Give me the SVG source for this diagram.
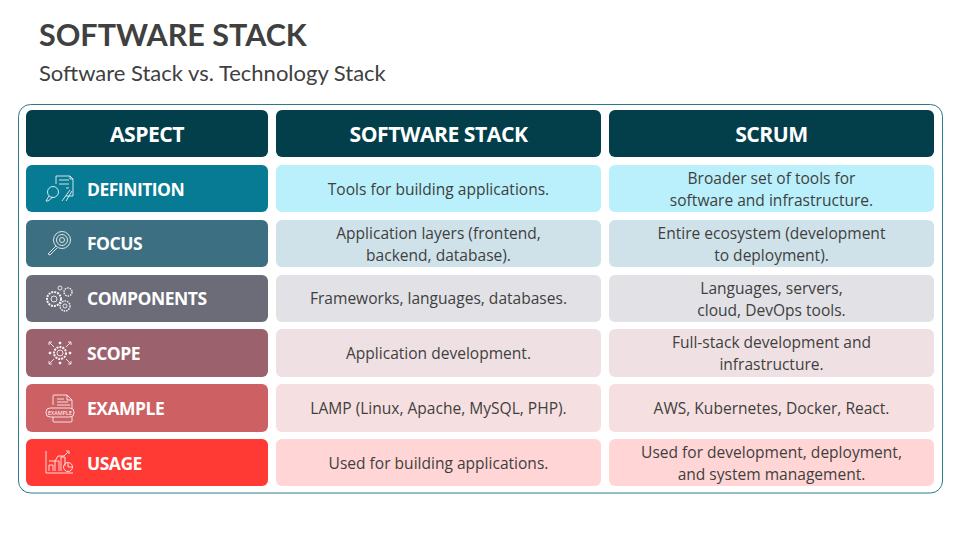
<svg xmlns="http://www.w3.org/2000/svg" width="960" height="540" viewBox="0 0 960 540">
<style>
.t{font-family:"Open Sans","Noto Sans",sans-serif;font-size:15.55px;fill:#3f3f3f;text-anchor:middle}
.h{font-family:"Open Sans","Noto Sans",sans-serif;font-size:21.2px;font-weight:700;fill:#fff;text-anchor:middle;letter-spacing:-.5px}
.l{font-family:"Open Sans","Noto Sans",sans-serif;font-size:17.5px;font-weight:700;fill:#fff;letter-spacing:-.5px}
.i{fill:none;stroke:#fff;stroke-width:.9;stroke-opacity:.9}
</style>
<rect width="960" height="540" fill="#fff"/>
<text id="title" x="39" y="46" font-family="Lato,sans-serif" font-size="30.5px" font-weight="700" fill="#404040">SOFTWARE STACK</text>
<text id="subtitle" x="39" y="81" font-family="Lato,sans-serif" font-size="22px" fill="#404040">Software Stack vs. Technology Stack</text>
<rect id="frame" x="18.5" y="104.5" width="924" height="388.5" rx="12" fill="#fff" stroke="#2b7a8c" stroke-width="1"/>
<g id="head-aspect"><rect x="26" y="110" width="242" height="47" rx="6" fill="#033e4b"/><text class="h" x="147" y="141.500">ASPECT</text></g>
<g id="head-software"><rect x="276" y="110" width="325" height="47" rx="6" fill="#033e4b"/><text class="h" x="438.500" y="141.500">SOFTWARE STACK</text></g>
<g id="head-scrum"><rect x="609" y="110" width="325" height="47" rx="6" fill="#033e4b"/><text class="h" x="771.500" y="141.500">SCRUM</text></g>

<g id="row-definition">
<rect x="26" y="165" width="242" height="47" rx="6" fill="#077a94"/>
<g class="i"><path d="M56 184V176H70L73 179V196H66M70 176V179H73M59 180H69M59 184H69M66 188H69"/><circle cx="53" cy="192" r="5.500"/><path d="M49 196L46 201L48 201L53 197M62 201L70 190M66 201L72 191"/></g>
<text class="l" x="87" y="196">DEFINITION</text>
<rect x="276" y="165" width="325" height="47" rx="6" fill="#b9f0fb"/><text class="t" x="438.500" y="194.500">Tools for building applications.</text>
<rect x="609" y="165" width="325" height="47" rx="6" fill="#b9f0fb"/><text class="t" x="771.500" y="184">Broader set of tools for</text><text class="t" x="771.500" y="205.500">software and infrastructure.</text>
</g>
<g id="row-focus">
<rect x="26" y="220" width="242" height="47" rx="6" fill="#3d6f82"/>
<g class="i"><circle cx="62" cy="240" r="8.500"/><circle cx="62" cy="240" r="5.500"/><circle cx="62" cy="240" r="2.500"/><path d="M56 246L50 252L48 254L50 255L57 248"/></g>
<text class="l" x="87" y="250">FOCUS</text>
<rect x="276" y="220" width="325" height="47" rx="6" fill="#cfe2ea"/><text class="t" x="438.500" y="239">Application layers (frontend,</text><text class="t" x="438.500" y="260.500">backend, database).</text>
<rect x="609" y="220" width="325" height="47" rx="6" fill="#cfe2ea"/><text class="t" x="771.500" y="239">Entire ecosystem (development</text><text class="t" x="771.500" y="260.500">to deployment).</text>
</g>
<g id="row-components">
<rect x="26" y="275" width="242" height="47" rx="6" fill="#6c6c79"/>
<g class="i"><circle cx="54" cy="299" r="7" stroke-dasharray="2 1" stroke-width="2"/><circle cx="54" cy="299" r="3"/><circle cx="68" cy="292" r="4" stroke-dasharray="1.500 1" stroke-width="1.500"/><circle cx="65" cy="306" r="5" stroke-dasharray="1.500 1" stroke-width="1.500"/><circle cx="65" cy="306" r="2"/><circle cx="60" cy="288" r="2"/></g>
<text class="l" x="87" y="305">COMPONENTS</text>
<rect x="276" y="275" width="325" height="47" rx="6" fill="#e1e1e6"/><text class="t" x="438.500" y="304">Frameworks, languages, databases.</text>
<rect x="609" y="275" width="325" height="47" rx="6" fill="#e1e1e6"/><text class="t" x="771.500" y="294">Languages, servers,</text><text class="t" x="771.500" y="315.500">cloud, DevOps tools.</text>
</g>
<g id="row-scope">
<rect x="26" y="329" width="242" height="48" rx="6" fill="#9b626d"/>
<g class="i"><circle cx="60" cy="353" r="6" stroke-dasharray="2 1" stroke-width="2"/><circle cx="60" cy="353" r="3"/><path d="M49 342L54 347M49 342V345M49 342H52M71 342L66 347M71 342V345M71 342H68M49 364L54 359M49 364V361M49 364H52M71 364L66 359M71 364V361M71 364H68"/><circle cx="60" cy="343" r="1" fill="#fff"/><circle cx="60" cy="363" r="1" fill="#fff"/><circle cx="50" cy="353" r="1" fill="#fff"/><circle cx="70" cy="353" r="1" fill="#fff"/></g>
<text class="l" x="87" y="360">SCOPE</text>
<rect x="276" y="329" width="325" height="48" rx="6" fill="#efe1e3"/><text class="t" x="438.500" y="358.500">Application development.</text>
<rect x="609" y="329" width="325" height="48" rx="6" fill="#efe1e3"/><text class="t" x="771.500" y="348">Full-stack development and</text><text class="t" x="771.500" y="369.500">infrastructure.</text>
</g>
<g id="row-example">
<rect x="26" y="384" width="242" height="48" rx="6" fill="#cc6063"/>
<g class="i"><path d="M53 405V396Q53 395 54 395H67L72 400V408M67 395V400H72M72 417V421Q72 422 71 422H54Q53 422 53 421V417M57 399H64M57 402H68M57 405H70"/><rect x="46" y="408" width="28" height="9" rx="4"/></g>
<text font-family="Open Sans,sans-serif" font-size="5.500" fill="#fff" x="60" y="415" text-anchor="middle">EXAMPLE</text>
<text class="l" x="87" y="415">EXAMPLE</text>
<rect x="276" y="384" width="325" height="48" rx="6" fill="#f6dfe0"/><text class="t" x="438.500" y="413.500">LAMP (Linux, Apache, MySQL, PHP).</text>
<rect x="609" y="384" width="325" height="48" rx="6" fill="#f6dfe0"/><text class="t" x="771.500" y="413.500">AWS, Kubernetes, Docker, React.</text>
</g>
<g id="row-usage">
<rect x="26" y="439" width="242" height="47" rx="6" fill="#ff3a35"/>
<g class="i"><path d="M46 451V473H73M49 471V465H53V471M55 471V461H59V471M61 471V457H65V466M49 461H55L58 456H64L68 452M66 451L69 451L69 454"/><circle cx="68" cy="467" r="4.500"/><path d="M68 467V462.500M68 467H72.500"/></g>
<text class="l" x="87" y="470">USAGE</text>
<rect x="276" y="439" width="325" height="47" rx="6" fill="#ffd6d5"/><text class="t" x="438.500" y="468.500">Used for building applications.</text>
<rect x="609" y="439" width="325" height="47" rx="6" fill="#ffd6d5"/><text class="t" x="771.500" y="458">Used for development, deployment,</text><text class="t" x="771.500" y="479.500">and system management.</text>
</g>
</svg>
